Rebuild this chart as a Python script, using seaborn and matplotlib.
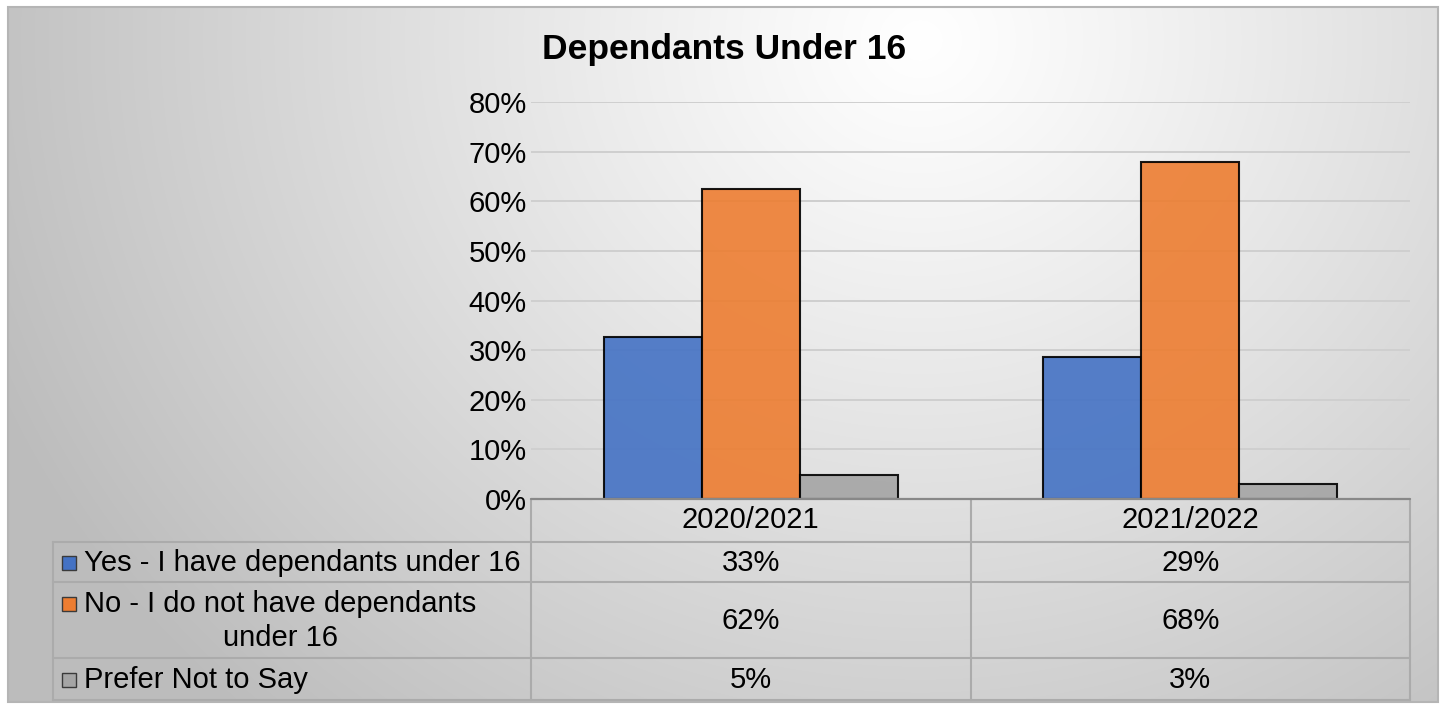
import numpy as np
import pandas as pd
import matplotlib
matplotlib.use("Agg")
import matplotlib.pyplot as plt
from matplotlib.patches import Rectangle
import seaborn as sns

# ---- data ----
periods = ["2020/2021", "2021/2022"]
responses = ["Yes - I have dependants under 16",
             "No - I do not have dependants under 16",
             "Prefer Not to Say"]
row_labels = ["Yes - I have dependants under 16",
              "No - I do not have dependants\nunder 16",
              "Prefer Not to Say"]
yes_pct = [32.6, 28.7]
no_pct = [62.4, 67.9]
prefer_not_pct = [4.9, 3.1]
y_ticks = [0, 10, 20, 30, 40, 50, 60, 70, 80]
title = "Dependants Under 16"

colors = ["#4472C4", "#ED7D31", "#A5A5A5"]

series = [yes_pct, no_pct, prefer_not_pct]
df = pd.DataFrame(
    [(p, r, vals[i]) for r, vals in zip(responses, series) for i, p in enumerate(periods)],
    columns=["period", "response", "value"],
)

sns.set_theme(style="white")
plt.rcParams["font.family"] = ["Liberation Sans", "DejaVu Sans"]

W, H = 1445, 709
fig = plt.figure(figsize=(W / 100, H / 100), dpi=100)
fig.patch.set_facecolor("white")

# ---- chart-area background: soft radial grey gradient with a thin frame ----
bg = fig.add_axes([0, 0, 1, 1], zorder=0)
x0, x1, y0, y1 = 8, 1438, 7, 702
yy, xx = np.mgrid[y0:y1, x0:x1]
d = np.hypot(xx - 920, (yy - 40) * 1.1) / 1000
v = 1.0 - 0.26 * np.clip(d, 0, 1) ** 1.1
bg.imshow(np.dstack([v, v, v]), extent=[x0, x1, y1, y0], origin="upper",
          interpolation="bilinear", aspect="auto")
bg.add_patch(Rectangle((x0, y0), x1 - x0, y1 - y0, fill=False,
                       edgecolor="#b5b5b5", lw=1.5))
bg.set_xlim(0, W)
bg.set_ylim(H, 0)
bg.axis("off")

# ---- bars ----
ax = fig.add_axes([531 / W, 1 - 499 / H, 879 / W, 397 / H], zorder=2)
ax.set_facecolor("none")
sns.barplot(data=df, x="period", y="value", hue="response", order=periods,
            hue_order=responses, palette=colors, saturation=1, width=0.67,
            edgecolor="black", linewidth=1.5, alpha=0.9, legend=False, ax=ax)
ax.set_xlim(-0.5, 1.5)
ax.set_ylim(0, 80)
ax.set_yticks(y_ticks)
ax.set_yticklabels([f"{t}%" for t in y_ticks])
ax.yaxis.grid(True, color="#cfcfcf", lw=1.4)
ax.set_axisbelow(True)
ax.tick_params(axis="y", length=0, pad=3, labelsize=21, labelcolor="black")
ax.set_xticks([])
ax.set_xlabel("")
ax.set_ylabel("")
for s in ax.spines.values():
    s.set_visible(False)

fig.text(724 / W, 1 - 49 / H, title, ha="center", va="center",
         fontsize=25.5, fontweight="bold", color="black")

# ---- data table below the axis ----
ov = fig.add_axes([0, 0, 1, 1], zorder=3)
ov.set_facecolor("none")
ov.set_xlim(0, W)
ov.set_ylim(H, 0)
ov.axis("off")

to_px = lambda xd: ov.transData.inverted().transform(ax.transData.transform((xd, 0)))[0]
col_edges = [to_px(e) for e in (-0.5, 0.5, 1.5)]
col_centers = [to_px(c) for c in range(len(periods))]
left_edge = 53
row_edges = [499, 542, 582, 658, 700]
line_c = "#ababab"

for xe in col_edges:
    ov.plot([xe, xe], [row_edges[0], row_edges[-1]], color=line_c, lw=1.5)
ov.plot([left_edge, left_edge], [row_edges[1], row_edges[-1]], color=line_c, lw=1.5)
for ye in row_edges[1:]:
    ov.plot([left_edge, col_edges[-1]], [ye, ye], color=line_c, lw=1.5)
ov.plot([col_edges[0], col_edges[-1]], [499, 499], color="#888888", lw=1.6)

fs = 21
hdr_y = (row_edges[0] + row_edges[1]) / 2
for cx, p in zip(col_centers, periods):
    ov.text(cx, hdr_y, p, ha="center", va="center", fontsize=fs, color="black")

key_y = [563, 604, 680]
for i, (lab, vals, col) in enumerate(zip(row_labels, series, colors)):
    yc = (row_edges[i + 1] + row_edges[i + 2]) / 2
    ov.add_patch(Rectangle((62, key_y[i] - 7), 14, 14, facecolor=col,
                           edgecolor="#3a3a3a", lw=1.0))
    ov.text(84, yc + 1, lab, ha="left", va="center", fontsize=fs,
            multialignment="center", color="black", linespacing=1.28)
    for cx, v in zip(col_centers, vals):
        ov.text(cx, yc + 1, f"{v:.0f}%", ha="center", va="center", fontsize=fs,
                color="black")

fig.savefig("out.png", dpi=100)
